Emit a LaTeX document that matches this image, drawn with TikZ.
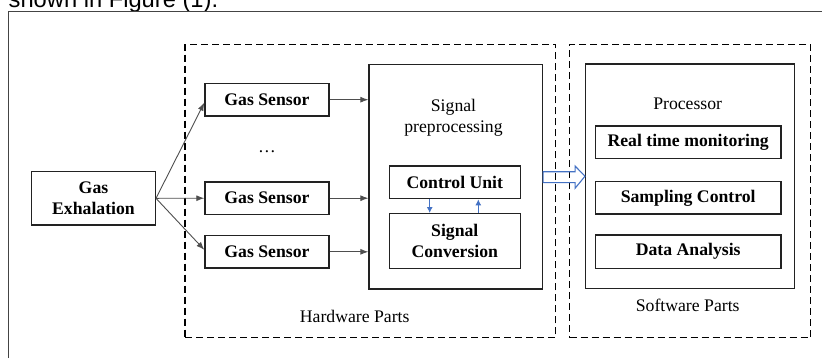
\documentclass[tikz,border=0pt]{standalone}
\usepackage{fontspec}
\setmainfont{Liberation Serif}
\newfontfamily\arialfont{Liberation Sans}
\usetikzlibrary{arrows.meta,calc}
\definecolor{wblue}{HTML}{4472C4}
\definecolor{frame}{HTML}{444444}
\definecolor{ink}{HTML}{222222}
\tikzset{
  txt/.style={font=\fontsize{17.7bp}{21bp}\selectfont, align=center, inner sep=0pt},
  boldbox/.style={draw=ink, line width=1.4bp, fill=white, txt, font=\fontsize{17.7bp}{21bp}\selectfont\bfseries},
  plainbox/.style={draw=ink, line width=1.4bp, inner sep=0pt},
  dashbox/.style={draw=black, line width=1.4bp, dash pattern=on 7bp off 4bp, inner sep=0pt},
  conn/.style={draw=ink!80, line width=0.9bp, -{Latex[length=8bp,width=6bp]}},
  bluearr/.style={draw=wblue, line width=1bp, -{Latex[length=6bp,width=6bp]}},
}
\begin{document}
\begin{tikzpicture}[x=1bp,y=-1bp]
\useasboundingbox (0,0) rectangle (822,358);
% clipped caption line from the page above
\begin{scope}
\clip (0,0) rectangle (822,10.2);
\node[anchor=base west, inner sep=0pt, font=\arialfont\fontsize{23.7bp}{28bp}\selectfont] (cap) at (8.5,7.6) {shown in Figure (1).};
\end{scope}
% outer frame (left and top)
\draw[frame, line width=1bp] (8.3,358) -- (8.3,11) -- (822,11);
% dashed groups
\node[dashbox, minimum width=370.7bp, minimum height=293.4bp] (hw) at (370.35,191) {};
\node[dashbox, minimum width=241bp, minimum height=293.4bp] (sw) at (690.2,191) {};
% boxes
\node[boldbox, minimum width=123.6bp, minimum height=53.3bp] (exh) at (93.5,198.3) {Gas\\Exhalation};
\node[boldbox, minimum width=124bp, minimum height=32.5bp] (s1) at (267,99.7) {Gas Sensor};
\node[boldbox, minimum width=124bp, minimum height=32.5bp] (s2) at (267,198.2) {Gas Sensor};
\node[boldbox, minimum width=124bp, minimum height=32.5bp] (s3) at (267,251.8) {Gas Sensor};
\node[txt] (dots) at (267,152) {\dots};
\node[plainbox, minimum width=173.3bp, minimum height=224.7bp] (sp) at (455.7,176.7) {};
\node[txt] (sptxt) at (453.5,117.5) {Signal\\preprocessing};
\node[boldbox, minimum width=131bp, minimum height=32.7bp] (cu) at (454.8,182.3) {Control Unit};
\node[boldbox, minimum width=131bp, minimum height=54.6bp] (sc) at (454.8,241) {Signal\\Conversion};
\node[plainbox, minimum width=208.6bp, minimum height=224.3bp] (proc) at (690,176.2) {};
\node[txt] (proctxt) at (687.7,103.3) {Processor};
\node[boldbox, minimum width=185.7bp, minimum height=32.3bp] (rtm) at (688.2,142.2) {Real time monitoring};
\node[boldbox, minimum width=185.7bp, minimum height=32.3bp] (samp) at (688.2,197.9) {Sampling Control};
\node[boldbox, minimum width=185.7bp, minimum height=33.3bp] (da) at (688.2,251.7) {Data Analysis};
\node[txt] (hwtxt) at (354.7,316) {Hardware Parts};
\node[txt] (swtxt) at (687.7,305.7) {Software Parts};
% connectors
\draw[conn] (exh.east) -- ($(s1.west)+(0,3)$);
\draw[conn] (exh.east) -- (s2.west);
\draw[conn] (exh.east) -- ($(s3.west)+(0,-2)$);
\draw[conn] (s1.east) -- (s1.east -| sp.west);
\draw[conn] (s2.east) -- (s2.east -| sp.west);
\draw[conn] (s3.east) -- (s3.east -| sp.west);
\draw[bluearr] ($(cu.south)+(-25.1,0)$) -- ($(sc.north)+(-25.1,0)$);
\draw[bluearr] ($(sc.north)+(23.5,0)$) -- ($(cu.south)+(23.5,0)$);
% hollow block arrow
\draw[wblue, line width=1.1bp, line join=miter]
  ($(sp.east)+(0,-5)$) -- ++(32,0) -- ++(0,-5.7)
  -- (proc.west)
  -- ($(sp.east)+(32,11.6)$) -- ++(0,-5.7) -- ($(sp.east)+(0,5.9)$) -- cycle;
\end{tikzpicture}
\end{document}
